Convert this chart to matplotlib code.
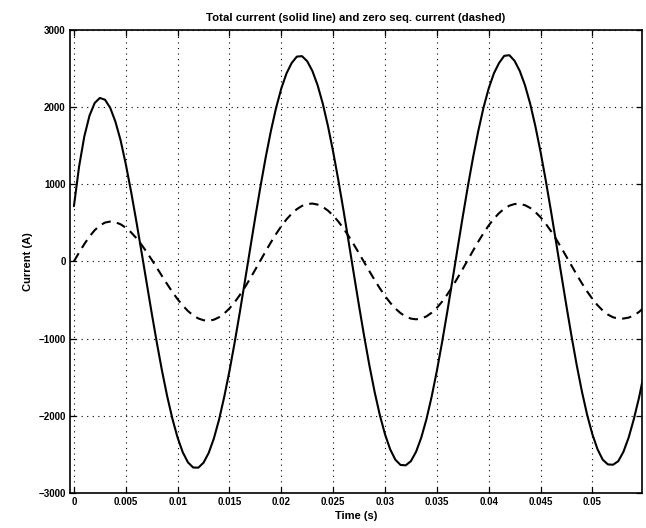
import numpy as np
import matplotlib
matplotlib.use("Agg")
import matplotlib.pyplot as plt

# ---- data ----
dt = 0.0005  # sampling step of the traces (s)
total_current = [
    714, 1228, 1615, 1885, 2049, 2115, 2092, 1987, 1809, 1568,
    1260, 912, 534, 139, -266, -668, -1055, -1419, -1749, -2038,
    -2282, -2472, -2602, -2668, -2670, -2606, -2479, -2291, -2047,
    -1752, -1420, -1052, -659, -249, 166, 578, 975, 1349, 1689, 1988,
    2237, 2432, 2567, 2650, 2656, 2590, 2464, 2281, 2042, 1752,
    1420, 1052, 659, 249, -166, -578, -975, -1349, -1689, -1988,
    -2237, -2432, -2567, -2635, -2640, -2586, -2464, -2281, -2042, -1752,
    -1420, -1052, -659, -249, 166, 578, 975, 1349, 1689, 1988,
    2237, 2432, 2567, 2660, 2668, 2595, 2464, 2281, 2042, 1752,
    1420, 1052, 659, 249, -166, -578, -975, -1349, -1689, -1988,
    -2237, -2432, -2567, -2628, -2632, -2586, -2464, -2281, -2042, -1765, -1440,
]
zero_seq_current = [
    0, 115, 223, 321, 403, 464, 502, 515,
    506, 480, 436, 377, 304, 219, 124, 22, -84, -191, -296, -397, -490, -572, -643, -699, -739, -762,
    -768, -755, -723, -674, -609, -529, -436, -333, -221, -105, 14, 132, 247, 355, 455, 543, 617, 676, 718, 742,
    748, 735, 705, 657, 594, 516, 426, 325, 217, 103, -13, -128, -241, -348, -447, -535, -610, -670, -714, -741, -750,
    -740, -712, -665, -602, -523, -430, -327, -215, -98, 21, 140, 256, 364, 464, 551, 624, 681, 721, 742,
    744, 727, 692, 639, 571, 488, 393, 289, 177, 60, -57, -174, -286, -390, -485, -568, -636, -689, -724, -741,
    -740, -728, -700, -655, -595,
]
time = np.arange(len(total_current)) * dt

x_ticks = [0, 0.005, 0.01, 0.015, 0.02, 0.025, 0.03, 0.035, 0.04, 0.045, 0.05]
x_tick_labels = ["0", "0.005", "0.01", "0.015", "0.02", "0.025", "0.03",
                 "0.035", "0.04", "0.045", "0.05"]
y_ticks = [-3000, -2000, -1000, 0, 1000, 2000, 3000]
y_tick_labels = ["\u22123000", "\u22122000", "\u22121000", "0", "1000", "2000", "3000"]

title = "Total current (solid line) and zero seq. current (dashed)"
xlabel = "Time (s)"
ylabel = "Current (A)"

# ---- figure ----
plt.rcParams['font.family'] = ['Liberation Sans', 'DejaVu Sans']
fig = plt.figure(figsize=(6.46, 5.28), dpi=100)
ax = fig.add_axes([0.108, 0.066, 0.886, 0.878])

ax.plot(time, total_current, color='black', lw=1.5, solid_capstyle='round')
ax.plot(time, zero_seq_current, color='black', lw=1.5, dashes=(4.5, 3.0))

ax.set_xlim(-0.0004, 0.0548)
ax.set_ylim(-3000, 3000)
ax.set_xticks(x_ticks)
ax.set_xticklabels(x_tick_labels)
ax.set_yticks(y_ticks)
ax.set_yticklabels(y_tick_labels)

ax.grid(True, color='black', linestyle=(0, (1, 4)), linewidth=0.8)
ax.tick_params(direction='in', length=4, width=0.9, top=True, right=True,
               labelsize=7, pad=3)
for lab in ax.get_xticklabels() + ax.get_yticklabels():
    lab.set_fontweight('bold')
for s in ax.spines.values():
    s.set_linewidth(1.2)

ax.set_title(title, fontsize=8.2, fontweight='bold', pad=6)
ax.set_xlabel(xlabel, fontsize=8, fontweight='bold', labelpad=3)
ax.set_ylabel(ylabel, fontsize=8, fontweight='bold', labelpad=4)

fig.savefig("out.png", dpi=100)
